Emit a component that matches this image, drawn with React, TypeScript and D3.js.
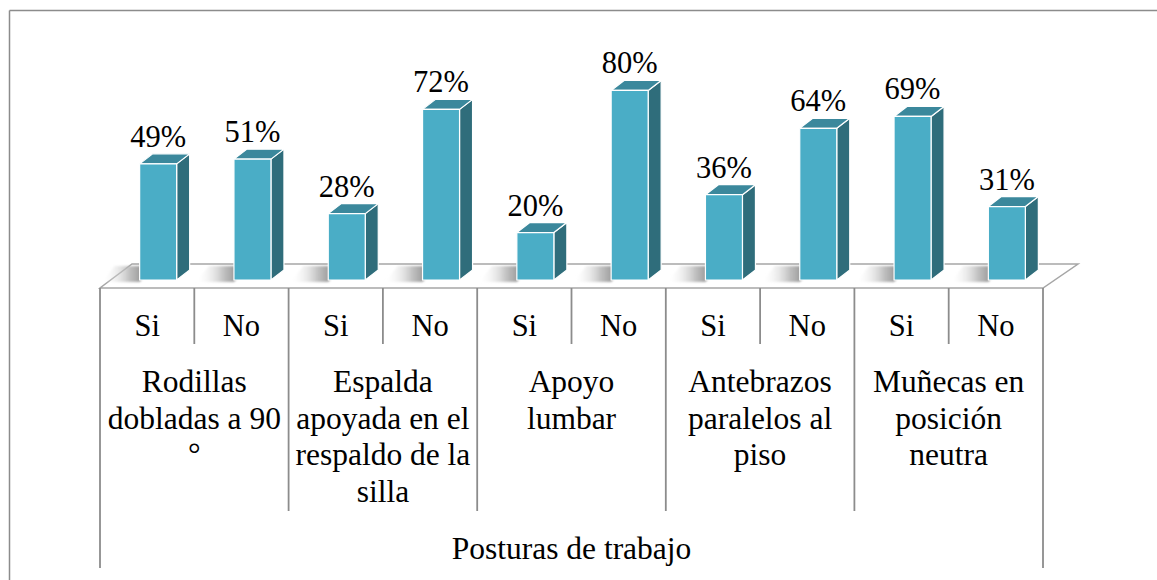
import React from "react";
import * as d3 from "d3";

const subLabels = ["Si", "No", "Si", "No", "Si", "No", "Si", "No", "Si", "No"];
const values = [49, 51, 28, 72, 20, 80, 36, 64, 69, 31];
const groupLabels: string[][] = [
  ["Rodillas", "dobladas a 90", "°"],
  ["Espalda", "apoyada en el", "respaldo de la", "silla"],
  ["Apoyo", "lumbar"],
  ["Antebrazos", "paralelos al", "piso"],
  ["Muñecas en", "posición", "neutra"],
];
const axisTitle = "Posturas de trabajo";

const W = 1157;
const H = 580;
const FONT = "Liberation Serif, Tinos, Times New Roman, DejaVu Serif, serif";

export default function App() {
  const x0 = 100;
  const x1 = 1043;
  const x = d3
    .scaleBand<number>()
    .domain(d3.range(values.length))
    .range([x0, x1])
    .padding(0);
  const y = d3.scaleLinear().domain([0, 100]).range([280, 43]);
  const bw = x.bandwidth();
  const barW = 37;
  const shift = 11;
  const ddx = 13;
  const ddy = -10;

  const floorFront = 288;
  const floorBack = 264;
  const floorBackL = 132;
  const floorBackR = 1078;

  const groupW = bw * 2;
  const gray = "#8c8c8c";
  const txt = { fontFamily: FONT };

  return (
    <svg
      width={W}
      height={H}
      style={{ position: "absolute", left: 0, top: 0, fontFamily: FONT }}
      xmlns="http://www.w3.org/2000/svg"
    >
      <defs>
        <linearGradient id="shadow" x1="1" y1="0" x2="0" y2="0">
          <stop offset="0" stopColor="#6e6e6e" stopOpacity="1" />
          <stop offset="0.45" stopColor="#b0b0b0" stopOpacity="0.8" />
          <stop offset="1" stopColor="#ffffff" stopOpacity="0" />
        </linearGradient>
        <filter id="blur" x="-20%" y="-50%" width="140%" height="200%">
          <feGaussianBlur stdDeviation="1.2" />
        </filter>
      </defs>
      <rect x={0} y={0} width={W} height={H} fill="#ffffff" />
      {/* chart area border */}
      <line x1={9.5} y1={10.5} x2={W} y2={10.5} stroke={gray} strokeWidth={1.5} />
      <line x1={9.5} y1={10.5} x2={9.5} y2={H} stroke={gray} strokeWidth={1.5} />

      {/* floor */}
      <polygon
        points={`${x0},${floorFront} ${x1},${floorFront} ${floorBackR},${floorBack} ${floorBackL},${floorBack}`}
        fill="#ffffff"
        stroke="#a6a6a6"
        strokeWidth={1.5}
      />
      {/* shadows */}
      {values.map((v, i) => {
        const bx = (x(i) as number) + bw / 2 + shift - barW / 2;
        const base = y(0);
        return (
          <polygon
            key={"sh" + i}
            points={`${bx - 38},${base + 2} ${bx},${base + 2} ${bx + ddx},${floorBack + 2} ${bx - 25},${floorBack + 2}`}
            fill="url(#shadow)"
            filter="url(#blur)"
          />
        );
      })}

      {/* bars */}
      {values.map((v, i) => {
        const bx = (x(i) as number) + bw / 2 + shift - barW / 2;
        const yb = y(0);
        const yt = y(v);
        return (
          <g key={"b" + i} stroke="#ffffff" strokeWidth={1.2} strokeLinejoin="round">
            <polygon
              points={`${bx + barW},${yt} ${bx + barW + ddx},${yt + ddy} ${bx + barW + ddx},${yb + ddy} ${bx + barW},${yb}`}
              fill="#2f6d7b"
            />
            <polygon
              points={`${bx},${yt} ${bx + ddx},${yt + ddy} ${bx + barW + ddx},${yt + ddy} ${bx + barW},${yt}`}
              fill="#3b889c"
            />
            <rect x={bx} y={yt} width={barW} height={yb - yt} fill="#4aadc6" />
            <text
              x={bx + barW / 2}
              y={yt + ddy - 7}
              textAnchor="middle"
              style={txt}
              fontSize={30.5}
              fill="#000"
              stroke="none"
            >
              {v}%
            </text>
          </g>
        );
      })}

      {/* axis table lines */}
      <g stroke={gray} strokeWidth={1.8}>
        <line x1={x0} y1={floorFront} x2={x0} y2={568} />
        <line x1={x1} y1={floorFront} x2={x1} y2={568} />
        {d3.range(1, groupLabels.length).map((g) => (
          <line
            key={"gs" + g}
            x1={x0 + g * groupW}
            y1={floorFront}
            x2={x0 + g * groupW}
            y2={511}
          />
        ))}
        {d3.range(groupLabels.length).map((g) => (
          <line
            key={"ss" + g}
            x1={x0 + g * groupW + bw}
            y1={floorFront}
            x2={x0 + g * groupW + bw}
            y2={344}
          />
        ))}
      </g>

      {/* sub labels */}
      {subLabels.map((s, i) => (
        <text
          key={"s" + i}
          x={(x(i) as number) + bw / 2}
          y={336}
          textAnchor="middle"
          style={txt}
          fontSize={30.5}
          fill="#000"
        >
          {s}
        </text>
      ))}

      {/* group labels */}
      {groupLabels.map((lines, g) => (
        <text key={"g" + g} textAnchor="middle" style={txt} fontSize={31.5} fill="#000">
          {lines.map((ln, k) => (
            <tspan key={k} x={x0 + g * groupW + groupW / 2} y={392 + k * 36.5}>
              {ln}
            </tspan>
          ))}
        </text>
      ))}

      <text
        x={(x0 + x1) / 2}
        y={559}
        textAnchor="middle"
        style={txt}
        fontSize={31.5}
        fill="#000"
      >
        {axisTitle}
      </text>
    </svg>
  );
}
